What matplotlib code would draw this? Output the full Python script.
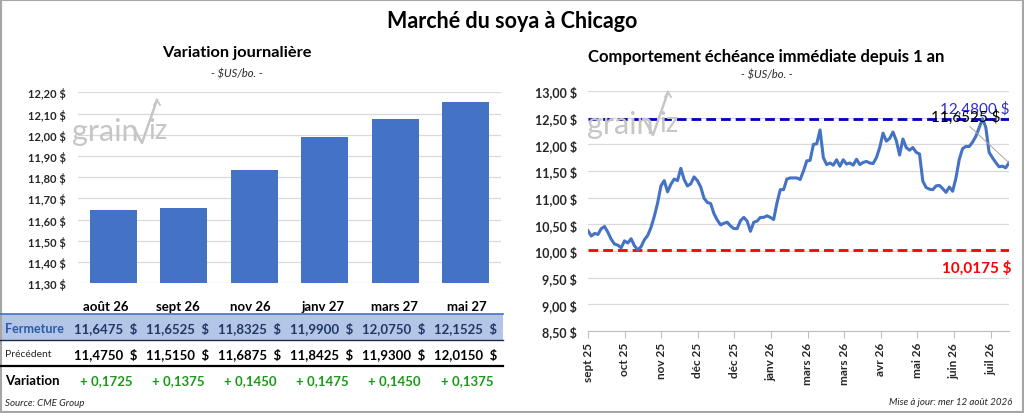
import matplotlib
matplotlib.use("Agg")

import numpy as np
import matplotlib.pyplot as plt
from matplotlib.patches import Rectangle
from matplotlib.lines import Line2D

plt.rcParams["font.family"] = ["Lato", "DejaVu Sans"]

W, H = 1024, 414

# ---------------------------------------------------------
# Data
# ---------------------------------------------------------
CONTRACTS = ["août 26", "sept 26", "nov 26", "janv 27", "mars 27", "mai 27"]
CLOSE = [11.6475, 11.6525, 11.8325, 11.9900, 12.0750, 12.1525]
PREVIOUS = [11.4750, 11.5150, 11.6875, 11.8425, 11.9300, 12.0150]

# nearby contract, roughly every 2 trading days over the last year
NEARBY = [
    10.38, 10.28, 10.33, 10.31, 10.42, 10.46, 10.35, 10.22, 10.13, 10.11,
    10.06, 10.19, 10.15, 10.23, 10.10, 10.02, 10.08, 10.21, 10.29, 10.44,
    10.65, 10.90, 11.22, 11.32, 11.11, 11.25, 11.35, 11.32, 11.55, 11.34,
    11.22, 11.26, 11.39, 11.32, 11.20, 10.99, 10.91, 10.89, 10.70, 10.58,
    10.49, 10.52, 10.54, 10.47, 10.42, 10.42, 10.57, 10.63, 10.56, 10.37,
    10.54, 10.56, 10.63, 10.63, 10.66, 10.63, 10.59, 10.90, 11.15, 11.15,
    11.35, 11.37, 11.37, 11.37, 11.34, 11.50, 11.69, 11.70, 12.00, 12.01,
    12.27, 11.75, 11.62, 11.65, 11.61, 11.71, 11.59, 11.71, 11.63, 11.65,
    11.61, 11.72, 11.62, 11.66, 11.68, 11.65, 11.64, 11.75, 11.94, 12.21,
    12.06, 12.11, 12.23, 12.07, 11.80, 12.10, 11.94, 11.89, 11.94, 11.85,
    11.82, 11.31, 11.19, 11.16, 11.15, 11.22, 11.23, 11.17, 11.10, 11.20,
    11.12, 11.37, 11.72, 11.92, 11.96, 11.96, 12.04, 12.15, 12.31, 12.48,
    12.32, 11.85, 11.75, 11.66, 11.58, 11.59, 11.56, 11.6525,
]
MONTH_LABELS = ["sept 25", "oct 25", "nov 25", "déc 25", "déc 25", "janv 26",
                "mars 26", "mars 26", "avr 26", "mai 26", "juin 26", "juil 26"]
HIGH_1Y = 12.4800
LOW_1Y = 10.0175

C_BAR = "#4472C4"
C_GRID = "#D9D9D9"
C_BAND = "#B4C6E7"
C_TXT = "#262626"
C_GREEN = "#1A9A1A"
C_WM = "#C6C6C6"


def fr(v, nd=4):
    return f"{v:.{nd}f}".replace(".", ",")


def px(x0, y0, w, h):
    return [x0 / W, 1 - (y0 + h) / H, w / W, h / H]


def watermark(ax, x, y, vx, vy):
    # "grain" + radical + "iz", in overlay pixel coords
    ax.text(x, y, "grain", fontsize=22, color=C_WM, ha="left", va="baseline")
    ax.add_line(Line2D([vx, vx + 9, vx + 24], [vy, vy + 16, vy - 27],
                       color=C_WM, lw=1.8))
    ax.add_line(Line2D([vx + 21, vx + 24, vx + 27], [vy - 22, vy - 27, vy - 22],
                       color=C_WM, lw=1.3))
    ax.text(vx + 15, y - 2, "iz", fontsize=20, color=C_WM, ha="left",
            va="baseline")


fig = plt.figure(figsize=(W / 100, H / 100), dpi=100)
fig.patch.set_facecolor("white")

# ================================================================
# Left: daily variation bars
# ================================================================
ax_l = fig.add_axes(px(78, 93.3, 423, 191))
x = np.arange(len(CONTRACTS))
ax_l.bar(x, CLOSE, width=0.667, color=C_BAR, zorder=3)
ax_l.set_xlim(-0.5, len(CONTRACTS) - 0.5)
ax_l.set_ylim(11.30, 12.20)
yt = np.round(np.arange(11.30, 12.201, 0.10), 2)
ax_l.set_yticks(yt)
ax_l.set_yticklabels([fr(v, 2) + " $" for v in yt], fontsize=8,
                     fontweight="bold", color=C_TXT)
ax_l.set_xticks([])
ax_l.tick_params(axis="y", length=0, pad=9)
ax_l.grid(axis="y", color=C_GRID, lw=0.9, zorder=0)
ax_l.set_axisbelow(True)
for s in ax_l.spines.values():
    s.set_visible(False)

# ================================================================
# Right: nearby contract over 1 year
# ================================================================
ax_r = fig.add_axes(px(588, 92, 421, 240))
xi = np.arange(len(NEARBY))
ax_r.plot(xi, NEARBY, color=C_BAR, lw=2.2, zorder=4)
ax_r.axhline(HIGH_1Y, color="#0000C0", lw=2, ls=(0, (3.5, 1.8)), zorder=3)
ax_r.axhline(LOW_1Y, color="#FF0000", lw=2, ls=(0, (3.5, 1.8)), zorder=3)
ax_r.set_xlim(0, len(NEARBY) - 1)
ax_r.set_ylim(8.5, 13.0)
yt_r = np.arange(8.5, 13.01, 0.5)
ax_r.set_yticks(yt_r)
ax_r.set_yticklabels([fr(v, 2) + " $" for v in yt_r], fontsize=9,
                     fontweight="bold", color=C_TXT)
step = (len(NEARBY) - 1) / 11.5
ax_r.set_xticks([i * step for i in range(len(MONTH_LABELS))])
ax_r.set_xticklabels(MONTH_LABELS, rotation=90, fontsize=8.5,
                     fontweight="bold", color=C_TXT)
ax_r.tick_params(axis="y", length=0, pad=8)
ax_r.tick_params(axis="x", length=5, color="#BFBFBF", pad=3)
ax_r.grid(axis="y", color=C_GRID, lw=0.9, zorder=0)
ax_r.set_axisbelow(True)
for k, s in ax_r.spines.items():
    s.set_visible(k == "bottom")
ax_r.spines["bottom"].set_color("#BFBFBF")

ax_r.annotate(fr(HIGH_1Y) + " $", xy=(1.0, HIGH_1Y),
              xycoords=("axes fraction", "data"), xytext=(0, 2),
              textcoords="offset points", ha="right", va="bottom",
              fontsize=11, color="#2E2EC8", zorder=6)
ax_r.annotate(fr(LOW_1Y) + " $", xy=(1.0, LOW_1Y),
              xycoords=("axes fraction", "data"), xytext=(2, -7),
              textcoords="offset points", ha="right", va="top",
              fontsize=11, fontweight="bold", color="#FF0000", zorder=6)
ax_r.annotate(fr(NEARBY[-1]) + " $", xy=(xi[-1], NEARBY[-1]),
              xytext=(124.3, 12.53), textcoords="data",
              ha="right", va="center", fontsize=11, color="black", zorder=6,
              arrowprops=dict(arrowstyle="-", color="#A6A6A6", lw=0.7,
                              relpos=(0.52, 0.0), shrinkA=0, shrinkB=0))

# ================================================================
# Overlay: titles, table, footers, watermarks
# ================================================================
ov = fig.add_axes([0, 0, 1, 1])
ov.set_xlim(0, W)
ov.set_ylim(H, 0)
ov.axis("off")
ov.patch.set_alpha(0)

ov.text(512, 21, "Marché du soya à Chicago", fontsize=15.5,
        fontweight="bold", ha="center", va="center", color="black")
ov.text(237, 53, "Variation journalière", fontsize=11.8, fontweight="bold",
        ha="center", va="center", color="black")
ov.text(237, 74, "- $US/bo. -", fontsize=8, style="italic", ha="center",
        va="center", color=C_TXT)
ov.text(766, 57, "Comportement échéance immédiate depuis 1 an",
        fontsize=12, fontweight="bold", ha="center", va="center",
        color="black")
ov.text(767, 75, "- $US/bo. -", fontsize=8, style="italic", ha="center",
        va="center", color=C_TXT)

watermark(ov, 72, 141, 133, 128)
watermark(ov, 587, 134, 644, 120)

# table
ov.add_patch(Rectangle((0, 315), 503, 26, fc=C_BAND, ec="none"))
ov.add_line(Line2D([0, 503], [315, 315], color="#4472C4", lw=1.2))
ov.add_line(Line2D([0, 503], [341, 341], color="#1F2A44", lw=1.0))
ov.add_line(Line2D([0, 503], [366.7, 366.7], color="black", lw=1.6))

ov.text(5, 329, "Fermeture", fontsize=9, fontweight="bold", color="#2A5AA8",
        ha="left", va="center")
ov.text(5, 355, "Précédent", fontsize=7.5, color=C_TXT, ha="left",
        va="center")
ov.text(5, 381, "Variation", fontsize=9.5, fontweight="bold", color="black",
        ha="left", va="center")

for i, name in enumerate(CONTRACTS):
    right = 137 + 72 * i
    center = 106 + 72.2 * i
    ov.text(center, 307, name, fontsize=9.5, fontweight="bold", color="black",
            ha="center", va="center")
    ov.text(right, 329, fr(CLOSE[i]) + "  $", fontsize=9.5, fontweight="bold",
            color="#1F3864", ha="right", va="center")
    ov.text(right, 355, fr(PREVIOUS[i]) + "  $", fontsize=9.5,
            fontweight="bold", color="black", ha="right", va="center")
    diff = CLOSE[i] - PREVIOUS[i]
    sign = "+ " if diff >= 0 else "- "
    ov.text(center, 381, sign + fr(abs(diff)), fontsize=9.5,
            fontweight="bold", color=C_GREEN, ha="center", va="center")

ov.text(5, 404, "Source: CME Group", fontsize=7, style="italic",
        color=C_TXT, ha="left", va="center")
ov.text(1012, 403, "Mise à jour: mer 12 août 2026", fontsize=7,
        style="italic", color=C_TXT, ha="right", va="center")

# outer frame
ov.add_patch(Rectangle((0.5, 0.5), W - 1.5, H - 1.5, fc="none",
                       ec="#A6A6A6", lw=1.5))

fig.savefig("out.png", dpi=100, facecolor="white")
